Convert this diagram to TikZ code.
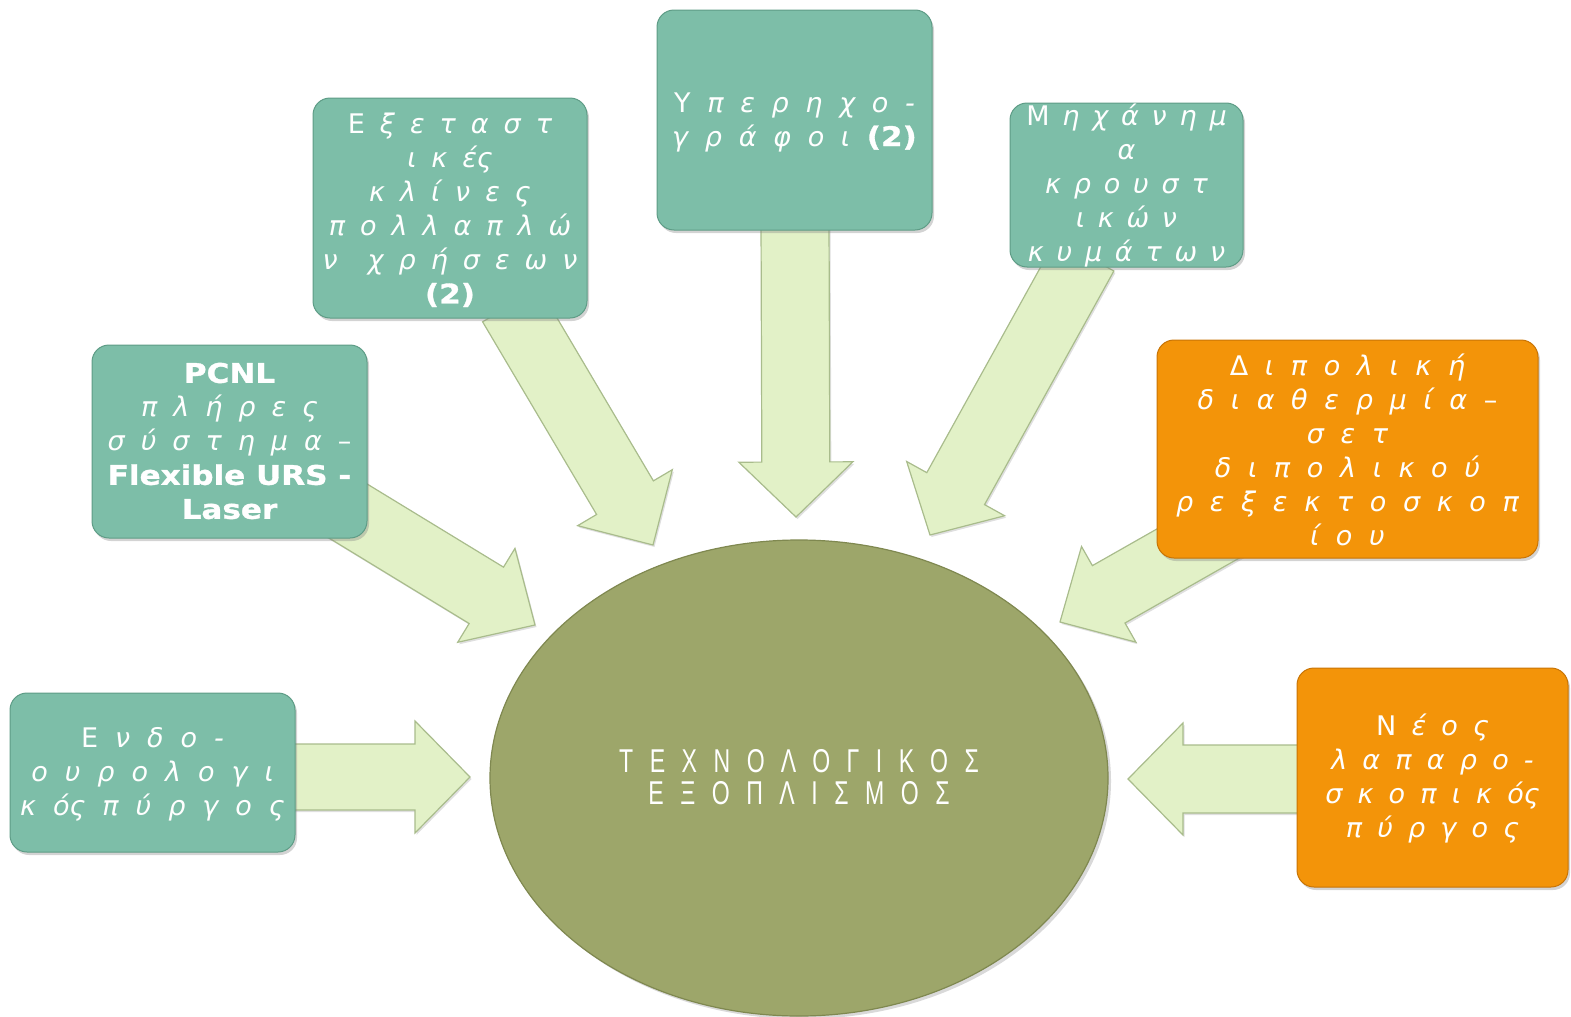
\documentclass[tikz,border=0pt]{standalone}
\usepackage{fontspec}
\usetikzlibrary{calc,shadows,shapes.geometric}
\newfontfamily\gr{DejaVu Sans}
\newfontfamily\bd{DejaVu Sans}[FakeStretch=1.15,FakeBold=1.2]
\newfontfamily\ctr{Liberation Sans}[FakeStretch=0.7,LetterSpace=50]
\definecolor{teal}{HTML}{7DBEA8}
\definecolor{tealdk}{HTML}{5E9C86}
\definecolor{orng}{HTML}{F39409}
\definecolor{orngdk}{HTML}{C87405}
\definecolor{olive}{HTML}{9DA66A}
\definecolor{olivedk}{HTML}{7F8850}
\definecolor{arrfill}{HTML}{E2F1C7}
\definecolor{arrline}{HTML}{A9BC8C}
\tikzset{
  boxg/.style={rounded corners=17pt, fill=teal, draw=tealdk, line width=1pt,
    drop shadow={shadow xshift=2pt, shadow yshift=-3pt, opacity=0.35}},
  boxo/.style={rounded corners=17pt, fill=orng, draw=orngdk, line width=1pt,
    drop shadow={shadow xshift=2pt, shadow yshift=-3pt, opacity=0.35}},
  txt/.style={align=center, text=white, inner sep=0pt,
    font={\gr\itshape\fontsize{27}{34}\selectfont\spaceskip=#1pt plus 1pt\relax}},
  txt/.default=16,
  arrstyle/.style={fill=arrfill, draw=arrline, line width=1.2pt, line join=miter,
    drop shadow={shadow xshift=1.5pt, shadow yshift=-2pt, opacity=0.25}},
}
\newcommand\blockarr[5]{%
  \coordinate (hb) at ($(#2)!#5pt!(#1)$);
  \draw[arrstyle] ($(#1)!#3pt!90:(#2)$) -- ($(hb)!#3pt!-90:(#1)$) -- ($(hb)!#4pt!-90:(#1)$) -- (#2)
    -- ($(hb)!#4pt!90:(#1)$) -- ($(hb)!#3pt!90:(#1)$) -- ($(#1)!#3pt!-90:(#2)$) -- cycle;
}
\newcommand\B[1]{{\bd\bfseries\upshape #1}}
\newcommand\U[1]{{\upshape #1}}
\begin{document}
\begin{tikzpicture}[x=1pt,y=-1pt]
\useasboundingbox (0,0) rectangle (1571,1017);
% centre ellipse
\node[ellipse, draw=olivedk, line width=1.2pt, fill=olive, minimum width=618pt, minimum height=476pt, inner sep=0pt,
  drop shadow={shadow xshift=3pt, shadow yshift=-3pt, opacity=0.3}] (c) at (799,778) {};
\node[align=center, text=white, inner sep=0pt, font={\ctr\fontsize{33}{32}\selectfont}] (ct) at (799,777)
  {ΤΕΧΝΟΛΟΓΙΚΟΣ\\ΕΞΟΠΛΙΣΜΟΣ};
% arrow anchor coordinates
\coordinate (t1) at (290,777);  \coordinate (h1) at (470,777);
\coordinate (t2) at (330,500);  \coordinate (h2) at (535,625);
\coordinate (t3) at (511,305);  \coordinate (h3) at (653,545);
\coordinate (t4) at (795,220);  \coordinate (h4) at (796,517);
\coordinate (t5) at (1085,255); \coordinate (h5) at (930,535);
\coordinate (t6) at (1250,514); \coordinate (h6) at (1060,622);
\coordinate (t7) at (1310,779); \coordinate (h7) at (1128,779);
\blockarr{t1}{h1}{33}{56}{55}
\blockarr{t2}{h2}{33}{55}{57}
\blockarr{t3}{h3}{33}{55}{55}
\blockarr{t4}{h4}{34}{57}{55}
\blockarr{t5}{h5}{33}{56}{53}
\blockarr{t6}{h6}{33}{55}{56}
\blockarr{t7}{h7}{34}{56}{55}
% boxes
\node[boxg, minimum width=285pt, minimum height=159pt] (b1) at (152.5,772.5) {};
\node[boxg, minimum width=275pt, minimum height=193pt] (b2) at (229.5,441.5) {};
\node[boxg, minimum width=274pt, minimum height=220pt] (b3) at (450,208) {};
\node[boxg, minimum width=275pt, minimum height=220pt] (b4) at (794.5,120) {};
\node[boxg, minimum width=233pt, minimum height=164pt] (b5) at (1126.5,185) {};
\node[boxo, minimum width=381pt, minimum height=218pt] (b6) at (1347.5,449) {};
\node[boxo, minimum width=271pt, minimum height=219pt] (b7) at (1432.5,777.5) {};
% texts
\node[txt=17] (x1) at (152.5,774) {\U{Ε} ν δ ο -\\ο υ ρ ο λ ο γ ι\\κ ός π ύ ρ γ ο ς};
\node[txt=16] (x2) at (229.5,441) {\B{PCNL}\\π λ ή ρ ε ς\\σ ύ σ τ η μ α \U{–}\\{\spaceskip=0pt\B{Flexible URS -}}\\\B{Laser}};
\node[txt=15] (x3) at (450,210) {\U{Ε} ξ ε τ α σ τ\\ι κ ές\\κ λ ί ν ε ς\\π ο λ λ α π λ ώ\\ν \ χ ρ ή σ ε ω ν\\\B{(2)}};
\node[txt=16.7] (x4) at (794.5,122) {\U{Υ} π ε ρ η χ ο -\\γ ρ ά φ ο ι \B{(2)}};
\node[txt=12.8] (x5) at (1126.5,186) {\U{Μ} η χ ά ν η μ\\α\\κ ρ ο υ σ τ\\ι κ ώ ν\\κ υ μ ά τ ω ν};
\node[txt=16.7] (x6) at (1347.5,450) {\U{Δ} ι π ο λ ι κ ή\\δ ι α θ ε ρ μ ί α \U{–}\\σ ε τ\\δ ι π ο λ ι κ ο ύ\\ρ ε ξ ε κ τ ο σ κ ο π\\ί ο υ};
\node[txt=15.2] (x7) at (1432.5,779) {\U{Ν} έ ο ς\\λ α π α ρ ο -\\σ κ ο π ι κ ός\\π ύ ρ γ ο ς};
\end{tikzpicture}
\end{document}
